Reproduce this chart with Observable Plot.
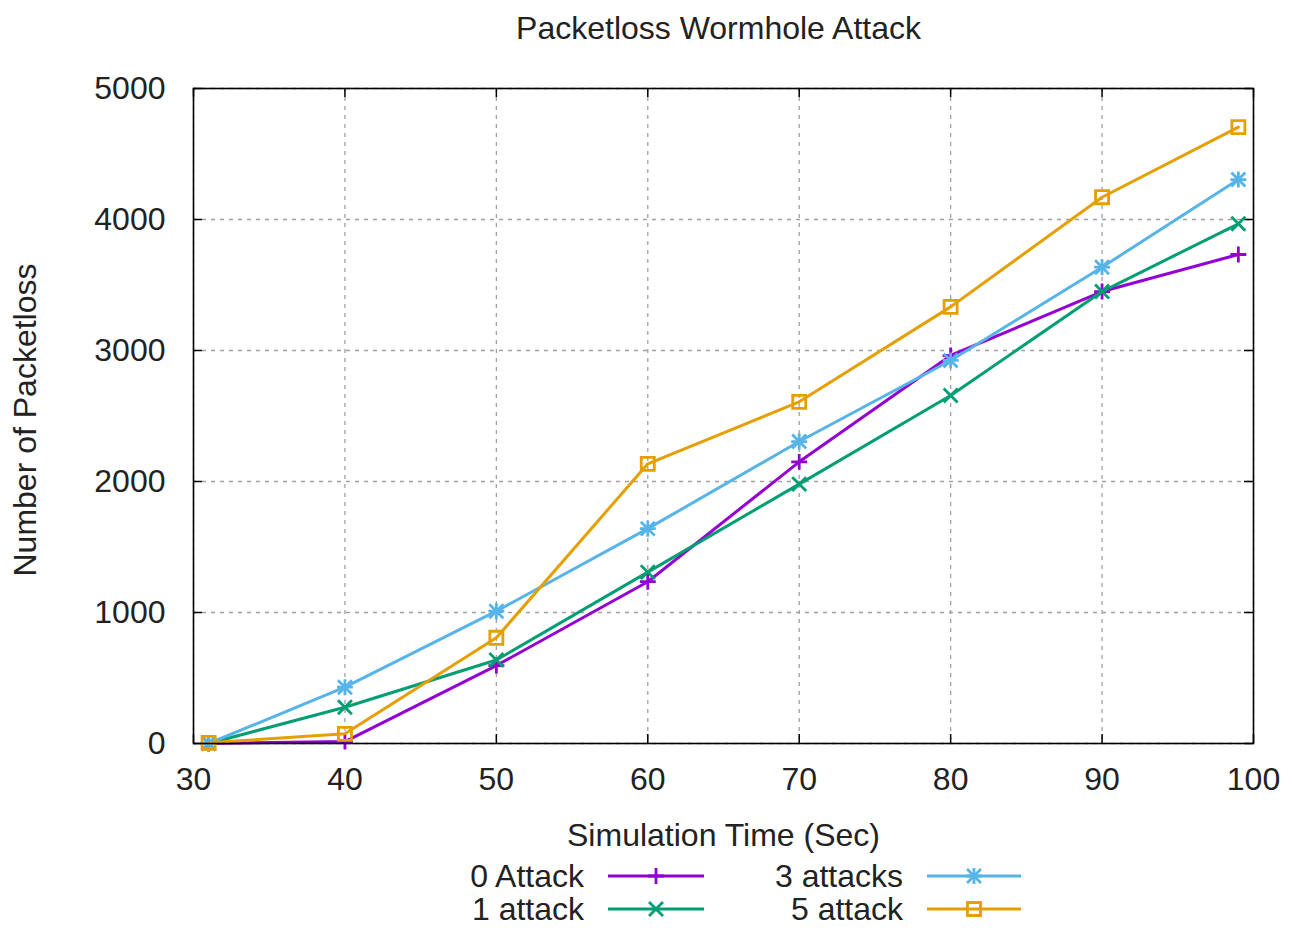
<!DOCTYPE html>
<html><head><meta charset="utf-8">
<script src="https://cdn.jsdelivr.net/npm/d3@7"></script>
<script src="https://cdn.jsdelivr.net/npm/@observablehq/plot@0.6"></script>
<style>
body{margin:0;background:#fff;font-family:"Liberation Sans",Arial,sans-serif;}
#wrap{width:1292px;height:928px;position:relative;overflow:hidden;background:#fff}
#title{height:60px;position:relative}
#legend{height:68px;position:relative}
.box{position:absolute;white-space:nowrap;font-size:32px;line-height:28px;color:#222}
.sw{position:absolute}
</style></head><body>
<div id="wrap">
  <div id="title"></div>
  <div id="chart"></div>
  <div id="legend"></div>
</div>
<script>
// ---- data ----
const titleText = "Packetloss Wormhole Attack";
const xLabel = "Simulation Time (Sec)";
const yLabel = "Number of Packetloss";
const times = [31, 40, 50, 60, 70, 80, 90, 99];
const seriesNames = ["0 Attack", "1 attack", "3 attacks", "5 attack"];
const attack0 = [0, 15, 595, 1235, 2150, 2962, 3450, 3733];
const attack1 = [0, 277, 637, 1308, 1980, 2656, 3450, 3967];
const attacks3 = [0, 430, 1010, 1640, 2305, 2924, 3636, 4305];
const attack5 = [5, 74, 807, 2135, 2608, 3333, 4170, 4705];
const xTicks = [30, 40, 50, 60, 70, 80, 90, 100];
const yTicks = [0, 1000, 2000, 3000, 4000, 5000];
const colors = ["#9400d3", "#009e73", "#56b4e9", "#e69f00"];
const symbolSets = [["plus"], ["times"], ["plus", "times"], ["square2"]];
const symbolR = {plus: 5.2, times: 6.4, square2: 8.3};

const valuesBySeries = [attack0, attack1, attacks3, attack5];
const rows = seriesNames.flatMap((name, s) => times.map((t, i) => ({series: name, time: t, value: valuesBySeries[s][i]})));

// ---- layout ----
const W = 1292, H = 800;
const mTop = 28, mBottom = 117, mLeft = 193, mRight = 39;
const plotW = W - mLeft - mRight, plotH = H - mTop - mBottom;
const FS = 32;

const gridStyle = {stroke: "#a0a0a0", strokeOpacity: 1, strokeDasharray: "4,5", strokeWidth: 1.3};
const marks = [
  Plot.gridX(xTicks, gridStyle),
  Plot.gridY(yTicks, gridStyle),
  Plot.tickX(xTicks, {x: d => d, stroke: "#000", strokeWidth: 1.5, insetTop: plotH - 9}),
  Plot.tickX(xTicks, {x: d => d, stroke: "#000", strokeWidth: 1.5, insetBottom: plotH - 9}),
  Plot.tickY(yTicks, {y: d => d, stroke: "#000", strokeWidth: 1.5, insetRight: plotW - 9}),
  Plot.tickY(yTicks, {y: d => d, stroke: "#000", strokeWidth: 1.5, insetLeft: plotW - 9}),
  Plot.axisX(xTicks, {tickSize: 0, tickPadding: 24, fontSize: FS, label: null, fill: "#222", tickFormat: d => String(d)}),
  Plot.axisY(yTicks, {tickSize: 0, tickPadding: 28, fontSize: FS, label: null, fill: "#222", tickFormat: d => String(d)}),
  Plot.text([xLabel], {frameAnchor: "bottom", dy: 92, lineAnchor: "middle", textAnchor: "middle", fontSize: FS, fill: "#222"}),
  Plot.text([yLabel], {frameAnchor: "left", dx: -168, dy: 4, rotate: -90, lineAnchor: "middle", textAnchor: "middle", fontSize: FS, fill: "#222"})
];
seriesNames.forEach((name, s) => {
  const data = rows.filter(r => r.series === name);
  marks.push(Plot.line(data, {x: "time", y: "value", stroke: colors[s], strokeWidth: 3}));
  symbolSets[s].forEach(sym => {
    marks.push(Plot.dot(data, {x: "time", y: "value", stroke: colors[s], fill: "none", symbol: sym, r: symbolR[sym], strokeWidth: 2.8}));
  });
});
marks.push(Plot.frame({stroke: "#000", strokeWidth: 1.6}));

const chart = Plot.plot({
  width: W, height: H,
  marginTop: mTop, marginBottom: mBottom, marginLeft: mLeft, marginRight: mRight,
  style: {fontFamily: "'Liberation Sans', Arial, sans-serif", fontSize: FS + "px", background: "#fff", overflow: "visible"},
  x: {domain: [30, 100]},
  y: {domain: [0, 5000]},
  marks
});
document.getElementById("chart").appendChild(chart);

// ---- title ----
const title = document.getElementById("title");
const tb = document.createElement("div");
tb.className = "box"; tb.style.left = "0px"; tb.style.width = "1437px"; tb.style.top = "14px"; tb.style.textAlign = "center";
tb.textContent = titleText;
title.appendChild(tb);

// ---- legend ----
const legend = document.getElementById("legend");
const legendCols = [{right: 584, x0: 608, x1: 704}, {right: 903, x0: 927, x1: 1021}];
const legendRows = [16, 49];
const symMap = {plus: d3.symbolPlus, times: d3.symbolTimes, square2: d3.symbolSquare2};
seriesNames.forEach((name, s) => {
  const col = legendCols[Math.floor(s / 2)], cy = legendRows[s % 2];
  const lb = document.createElement("div");
  lb.className = "box"; lb.style.left = "0px"; lb.style.width = col.right + "px"; lb.style.textAlign = "right";
  lb.style.top = (cy - 14) + "px";
  lb.textContent = name;
  legend.appendChild(lb);
  const w = col.x1 - col.x0;
  const svg = d3.create("svg").attr("class", "sw").attr("width", w + 20).attr("height", 30)
    .style("left", (col.x0 - 10) + "px").style("top", (cy - 15) + "px");
  svg.append("line").attr("x1", 10).attr("x2", 10 + w).attr("y1", 15).attr("y2", 15)
    .attr("stroke", colors[s]).attr("stroke-width", 3);
  symbolSets[s].forEach(sym => {
    const rr = symbolR[sym];
    svg.append("path").attr("transform", `translate(${10 + w / 2},15)`)
      .attr("d", d3.symbol(symMap[sym], Math.PI * rr * rr)())
      .attr("fill", "none").attr("stroke", colors[s]).attr("stroke-width", 2.8);
  });
  legend.appendChild(svg.node());
});
</script>
</body></html>
